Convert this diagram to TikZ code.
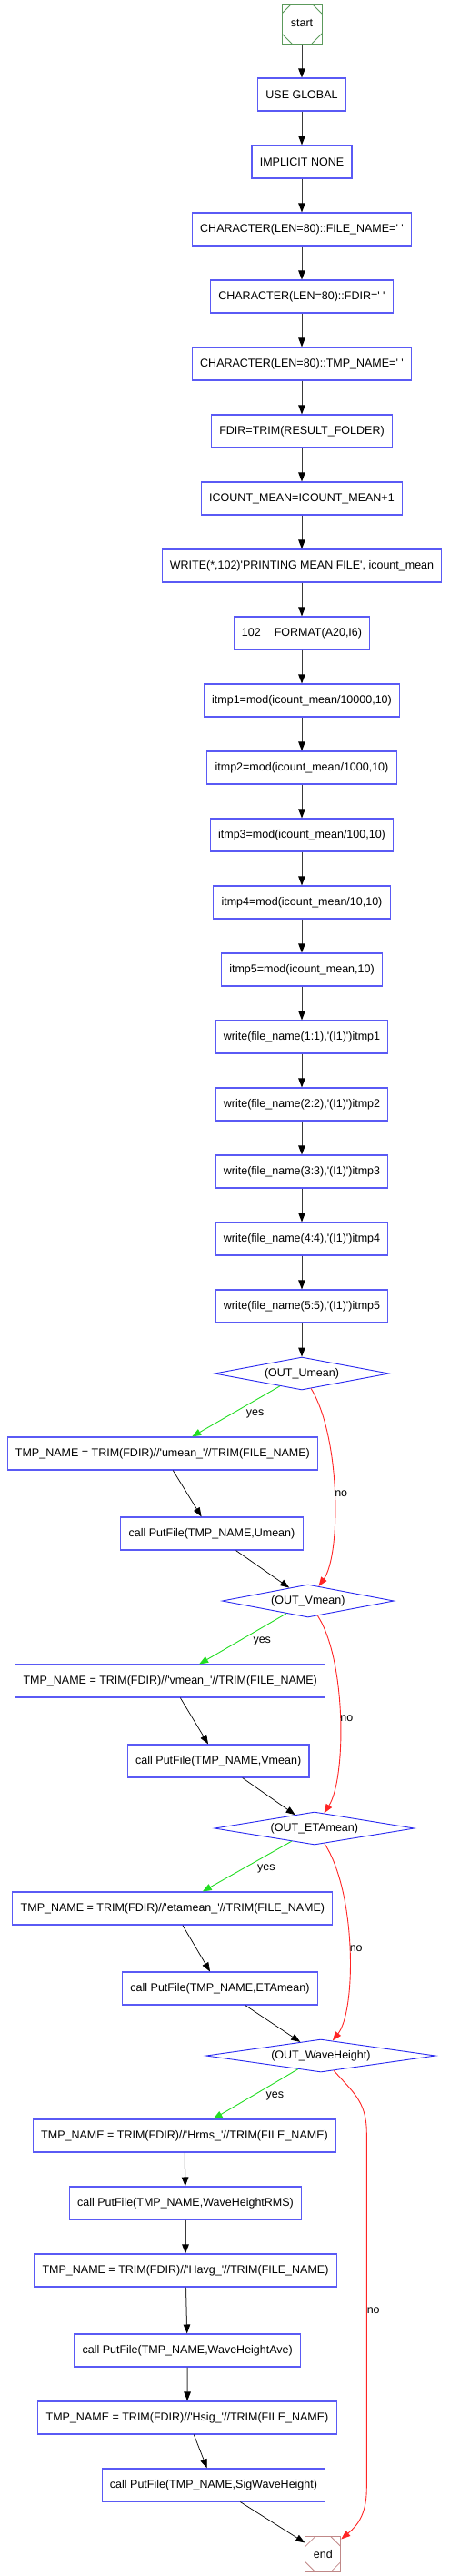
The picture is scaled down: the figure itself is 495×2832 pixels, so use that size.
\documentclass[tikz,border=0pt]{standalone}
\usepackage{fontspec}
\newfontfamily\flowfont{Liberation Sans}
\usetikzlibrary{arrows.meta,shapes.geometric}
\definecolor{fblue}{HTML}{5A5AF5}
\definecolor{fdiam}{HTML}{2828F0}
\definecolor{fstart}{HTML}{5C9A5C}
\definecolor{fend}{HTML}{C08888}
\definecolor{fline}{HTML}{3A3A3A}
\definecolor{fyes}{HTML}{22DD22}
\definecolor{fno}{HTML}{FF2424}

\begin{document}
\begin{tikzpicture}[x=1pt, y=-1pt, line width=0.7pt,
    font=\flowfont\fontsize{12.5}{15}\selectfont,
    >={Triangle[length=10pt,width=7.5pt]},
    stepbox/.style={draw=fblue, line width=1.1pt, rectangle, minimum height=36pt,
      inner xsep=8.8pt, inner ysep=0pt},
    decision/.style={draw=fdiam, line width=0.9pt, diamond, aspect=6, inner sep=0pt,
      minimum height=36pt, minimum width=#1},
    msq/.style={draw=#1, line width=1pt, rectangle, inner sep=0pt,
      path picture={
        \draw[#1, line width=0.8pt]
          ([yshift=-11pt]path picture bounding box.north west) -- ([xshift=11pt]path picture bounding box.north west)
          ([xshift=-11pt]path picture bounding box.north east) -- ([yshift=-11pt]path picture bounding box.north east)
          ([yshift=11pt]path picture bounding box.south west) -- ([xshift=11pt]path picture bounding box.south west)
          ([xshift=-11pt]path picture bounding box.south east) -- ([yshift=11pt]path picture bounding box.south east);
      }},
    flow/.style={-{Triangle[length=10pt,width=7.5pt,color=black]}, draw=fline, line width=1pt},
    branch/.style={->, black},
    yesedge/.style={->, fyes, line width=0.9pt},
    noedge/.style={->, fno, line width=0.9pt},
    lbl/.style={inner sep=0pt, text=black}]
  \useasboundingbox (0,0) rectangle (495,2832);

  % terminals
  \node[msq=fstart, minimum size=44pt] (start) at (332,26) {start};
  \node[msq=fend, minimum size=39pt] (endN) at (355.3,2808) {end};

  % declarations and counters
  \node[stepbox] (use)  at (332,104) {USE GLOBAL};
  \node[stepbox] (impl) at (332,178) {IMPLICIT NONE};
  \node[stepbox] (fn)   at (332,252) {CHARACTER(LEN=80)::FILE\_NAME=' '};
  \node[stepbox] (fd)   at (332,326) {CHARACTER(LEN=80)::FDIR=' '};
  \node[stepbox] (tmp)  at (332,400) {CHARACTER(LEN=80)::TMP\_NAME=' '};
  \node[stepbox] (trim) at (332,474) {FDIR=TRIM(RESULT\_FOLDER)};
  \node[stepbox] (icnt) at (332,548) {ICOUNT\_MEAN=ICOUNT\_MEAN+1};
  \node[stepbox] (wrt)  at (332,622) {WRITE(*,102)'PRINTING MEAN FILE', icount\_mean};
  \node[stepbox] (fmt)  at (332,696) {102\hspace{15pt}FORMAT(A20,I6)};

  % digits of the counter
  \node[stepbox] (i1) at (332,770)  {itmp1=mod(icount\_mean/10000,10)};
  \node[stepbox] (i2) at (332,844)  {itmp2=mod(icount\_mean/1000,10)};
  \node[stepbox] (i3) at (332,918)  {itmp3=mod(icount\_mean/100,10)};
  \node[stepbox] (i4) at (332,992)  {itmp4=mod(icount\_mean/10,10)};
  \node[stepbox] (i5) at (332,1066) {itmp5=mod(icount\_mean,10)};

  % file name characters
  \node[stepbox] (w1) at (332,1140) {write(file\_name(1:1),'(I1)')itmp1};
  \node[stepbox] (w2) at (332,1214) {write(file\_name(2:2),'(I1)')itmp2};
  \node[stepbox] (w3) at (332,1288) {write(file\_name(3:3),'(I1)')itmp3};
  \node[stepbox] (w4) at (332,1362) {write(file\_name(4:4),'(I1)')itmp4};
  \node[stepbox] (w5) at (332,1436) {write(file\_name(5:5),'(I1)')itmp5};

  % output switches
  \node[decision=192pt]   (dU) at (332,1510)   {(OUT\_Umean)};
  \node[decision=189pt]   (dV) at (338.8,1760) {(OUT\_Vmean)};
  \node[decision=219.7pt] (dE) at (345.9,2010) {(OUT\_ETAmean)};
  \node[decision=252.3pt] (dW) at (352.9,2260) {(OUT\_WaveHeight)};

  \node[stepbox] (tU) at (178.9,1598) {TMP\_NAME = TRIM(FDIR)//'umean\_'//TRIM(FILE\_NAME)};
  \node[stepbox] (cU) at (233,1686)   {call PutFile(TMP\_NAME,Umean)};
  \node[stepbox] (tV) at (187.2,1848) {TMP\_NAME = TRIM(FDIR)//'vmean\_'//TRIM(FILE\_NAME)};
  \node[stepbox] (cV) at (240.2,1936) {call PutFile(TMP\_NAME,Vmean)};
  \node[stepbox] (tE) at (189.9,2098) {TMP\_NAME = TRIM(FDIR)//'etamean\_'//TRIM(FILE\_NAME)};
  \node[stepbox] (cE) at (242,2186)   {call PutFile(TMP\_NAME,ETAmean)};
  \node[stepbox] (tH) at (203,2348)   {TMP\_NAME = TRIM(FDIR)//'Hrms\_'//TRIM(FILE\_NAME)};
  \node[stepbox] (cH) at (204,2422)   {call PutFile(TMP\_NAME,WaveHeightRMS)};
  \node[stepbox] (tA) at (204,2496)   {TMP\_NAME = TRIM(FDIR)//'Havg\_'//TRIM(FILE\_NAME)};
  \node[stepbox] (cA) at (206.2,2584) {call PutFile(TMP\_NAME,WaveHeightAve)};
  \node[stepbox] (tS) at (206,2658)   {TMP\_NAME = TRIM(FDIR)//'Hsig\_'//TRIM(FILE\_NAME)};
  \node[stepbox] (cS) at (235,2732)   {call PutFile(TMP\_NAME,SigWaveHeight)};

  % straight run down the left column
  \draw[flow] (start) -- (use);
  \draw[flow] (use) -- (impl);
  \draw[flow] (impl) -- (fn);
  \draw[flow] (fn) -- (fd);
  \draw[flow] (fd) -- (tmp);
  \draw[flow] (tmp) -- (trim);
  \draw[flow] (trim) -- (icnt);
  \draw[flow] (icnt) -- (wrt);
  \draw[flow] (wrt) -- (fmt);
  \draw[flow] (fmt) -- (i1);
  \draw[flow] (i1) -- (i2);
  \draw[flow] (i2) -- (i3);
  \draw[flow] (i3) -- (i4);
  \draw[flow] (i4) -- (i5);
  \draw[flow] (i5) -- (w1);
  \draw[flow] (w1) -- (w2);
  \draw[flow] (w2) -- (w3);
  \draw[flow] (w3) -- (w4);
  \draw[flow] (w4) -- (w5);
  \draw[flow] (w5) -- (dU);

  % yes branches
  \draw[yesedge] (dU) -- node[lbl, midway, anchor=west, xshift=11pt, yshift=-2.5pt] (yU) {yes} (tU);
  \draw[yesedge] (dV) -- node[lbl, midway, anchor=west, xshift=11pt, yshift=-2.5pt] (yV) {yes} (tV);
  \draw[yesedge] (dE) -- node[lbl, midway, anchor=west, xshift=11pt, yshift=-2.5pt] (yE) {yes} (tE);
  \draw[yesedge] (dW) -- node[lbl, midway, anchor=west, xshift=11pt, yshift=-2.5pt] (yW) {yes} (tH);

  \draw[branch] (tU) -- (cU);
  \draw[branch] (cU) -- (dV);
  \draw[branch] (tV) -- (cV);
  \draw[branch] (cV) -- (dE);
  \draw[branch] (tE) -- (cE);
  \draw[branch] (cE) -- (dW);
  \draw[flow] (tH) -- (cH);
  \draw[flow] (cH) -- (tA);
  \draw[flow] (tA) -- (cA);
  \draw[flow] (cA) -- (tS);
  \draw[branch] (tS) -- (cS);
  \draw[branch] (cS) -- (endN);

  % no branches, bowing out to the right
  \draw[noedge] (dU) .. controls (375,1580) and (375,1710) .. node[lbl, midway, anchor=west] (nU) {no} (dV);
  \draw[noedge] (dV) .. controls (381,1825) and (381,1955) .. node[lbl, midway, anchor=west] (nV) {no} (dE);
  \draw[noedge] (dE) .. controls (392,2080) and (392,2210) .. node[lbl, midway, anchor=west] (nE) {no} (dW);
  \draw[noedge] (dW) .. controls (388,2300) and (403.3,2310) .. (403.3,2345)
    -- node[lbl, midway, anchor=west] (nW) {no} (403.3,2735)
    .. controls (403.3,2762) and (395,2775) .. (endN);
\end{tikzpicture}
\end{document}
